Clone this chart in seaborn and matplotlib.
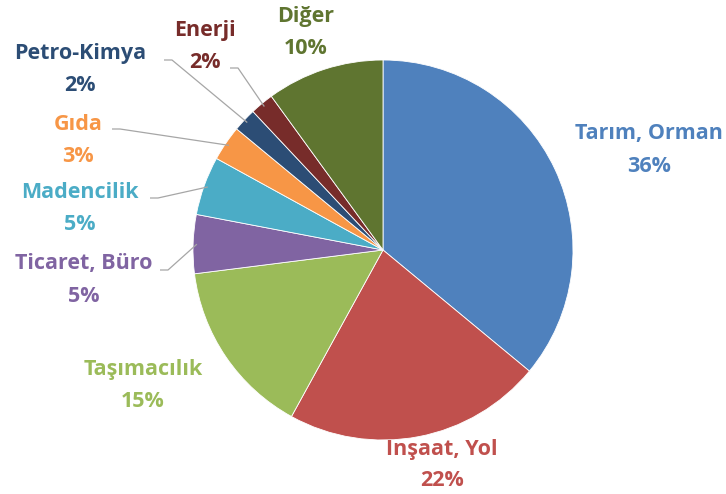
import numpy as np
import matplotlib.pyplot as plt
import seaborn as sns

# --- DATA ---
sektorler = ['Tarım, Orman', 'İnşaat, Yol', 'Taşımacılık', 'Ticaret, Büro',
             'Madencilik', 'Gıda', 'Petro-Kimya', 'Enerji', 'Diğer']
yuzdeler = [36, 22, 15, 5, 5, 3, 2, 2, 10]
renkler = ['#4F81BD', '#C0504D', '#9BBB59', '#8064A2', '#4BACC6',
           '#F79646', '#2C4D75', '#772C2A', '#5F7530']

# --- LAYOUT (pixel coordinates, y from top) ---
W, H = 726, 494
CX, CY, R = 383, 250, 190
# label text centre (x, y of the first line)
label_pos = {
    'Tarım, Orman': (649, 134),
    'İnşaat, Yol': (442, 448),
    'Taşımacılık': (143, 369),
    'Ticaret, Büro': (84, 264),
    'Madencilik': (80, 193),
    'Gıda': (78, 125),
    'Petro-Kimya': (80, 54),
    'Enerji': (205, 31),
    'Diğer': (306, 17),
}
# where leader lines start (only for the small slices)
leader_start = {
    'Ticaret, Büro': (160, 270),
    'Madencilik': (150, 198),
    'Gıda': (112, 129),
    'Petro-Kimya': (164, 60),
    'Enerji': (230, 68),
}

sns.set_theme(style="white")
plt.rcParams['font.family'] = ['Open Sans', 'DejaVu Sans']

fig = plt.figure(figsize=(W / 100, H / 100), dpi=100)
ax = fig.add_axes([0, 0, 1, 1])

wedges, _ = ax.pie(yuzdeler, colors=renkler, startangle=90, counterclock=False,
                   center=(CX, H - CY), radius=R,
                   wedgeprops=dict(edgecolor='white', linewidth=0.6))

# pie() resets the limits, so put them back afterwards
ax.set_xlim(0, W)
ax.set_ylim(0, H)
ax.set_aspect('auto')
ax.axis('off')

# mid-angle of every slice (degrees, math convention)
cum = np.cumsum([0] + yuzdeler[:-1])
mids = 90 - 360 * (cum + np.array(yuzdeler) / 2) / sum(yuzdeler)

for i, (ad, val, renk) in enumerate(zip(sektorler, yuzdeler, renkler)):
    lx, ly = label_pos[ad]
    ax.text(lx, H - ly, ad, ha='center', va='center', fontsize=15.5,
            fontweight='bold', color=renk)
    ax.text(lx, H - ly - 32, f'{val}%', ha='center', va='center', fontsize=15.5,
            fontweight='bold', color=renk)
    if ad in leader_start:
        sx, sy = leader_start[ad]
        a = np.deg2rad(mids[i])
        ex = CX + R * 0.98 * np.cos(a)
        ey = (H - CY) + R * 0.98 * np.sin(a)
        ax.plot([sx, sx + 8, ex], [H - sy, H - sy, ey], color='#A6A6A6',
                linewidth=0.9, solid_capstyle='butt')

plt.savefig('out.png', dpi=100)
